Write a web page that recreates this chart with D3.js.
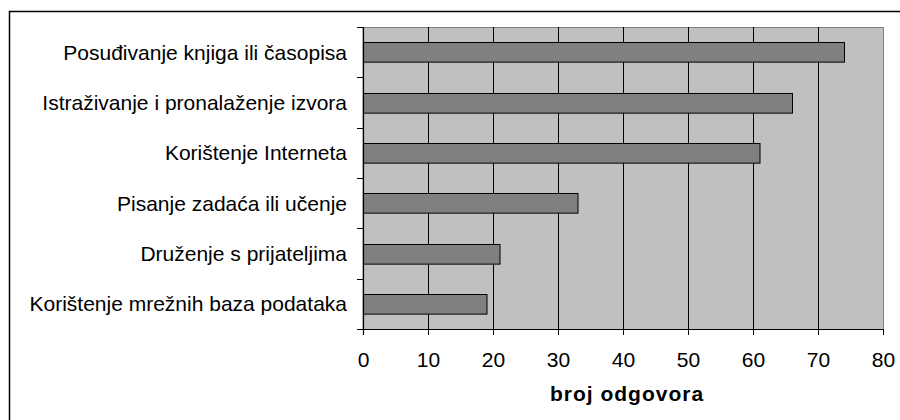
<!DOCTYPE html>
<html>
<head>
<meta charset="utf-8">
<script src="https://cdn.jsdelivr.net/npm/d3@7"></script>
<style>
body { margin:0; background:#fff; }
svg text { font-family: "Liberation Sans", Arial, sans-serif; fill:#000; }
</style>
</head>
<body>
<svg id="chart"></svg>
<script>
// answers, top to bottom
var categories = [
    "Posuđivanje knjiga ili časopisa",
    "Istraživanje i pronalaženje izvora",
    "Korištenje Interneta",
    "Pisanje zadaća ili učenje",
    "Druženje s prijateljima",
    "Korištenje mrežnih baza podataka"
];
var counts = [74, 66, 61, 33, 21, 19];
var xTicks = [0, 10, 20, 30, 40, 50, 60, 70, 80];
var xTitle = "broj odgovora";

var screen = {width:900, height:420};
var margins = {top:27, left:363, right:17, bottom:91};
var graph = {
    width: screen.width - margins.left - margins.right,
    height: screen.height - margins.top - margins.bottom
};

var svg = d3.select("#chart")
    .attr("width", screen.width)
    .attr("height", screen.height);

// outer frame (runs off the right and bottom edge)
svg.append("rect")
    .attr("x", 9.5)
    .attr("y", 11.5)
    .attr("width", 920)
    .attr("height", 440)
    .attr("fill", "none")
    .attr("stroke", "black")
    .attr("stroke-width", 1.5);

var x = d3.scaleLinear()
    .domain([0, 80])
    .range([0, graph.width]);

var y = d3.scaleBand()
    .domain(categories)
    .range([0, graph.height])
    .paddingInner(0.61)
    .paddingOuter(0.305);

var yEdges = d3.scaleBand()
    .domain(categories)
    .range([0, graph.height]);

var g = svg.append("g")
    .attr("transform", "translate(" + margins.left + "," + margins.top + ")");

// plot background
g.append("rect")
    .attr("x", 0)
    .attr("y", 0.5)
    .attr("width", graph.width + 0.5)
    .attr("height", graph.height)
    .attr("fill", "#c0c0c0")
    .attr("stroke", "#808080")
    .attr("stroke-width", 1);

// gridlines
g.append("g")
    .selectAll("line")
    .data(xTicks.slice(1, -1))
    .enter()
    .append("line")
    .attr("x1", function(d) { return Math.round(x(d)) + 0.5; })
    .attr("x2", function(d) { return Math.round(x(d)) + 0.5; })
    .attr("y1", 0)
    .attr("y2", graph.height)
    .attr("stroke", "black")
    .attr("stroke-width", 1);

// bars
g.append("g")
    .selectAll("rect")
    .data(counts)
    .enter()
    .append("rect")
    .attr("x", 0.5)
    .attr("y", function(d, i) { return Math.round(y(categories[i])) + 0.5; })
    .attr("width", function(d) { return x(d); })
    .attr("height", y.bandwidth())
    .attr("fill", "#808080")
    .attr("stroke", "black")
    .attr("stroke-width", 1);

// x axis
var xAxis = d3.axisBottom(x)
    .tickValues(xTicks)
    .tickSize(6)
    .tickPadding(15)
    .tickSizeOuter(0);

var xg = g.append("g")
    .attr("transform", "translate(0," + graph.height + ")")
    .call(xAxis);
xg.select(".domain").attr("stroke-width", 1.2);
xg.selectAll(".tick text")
    .style("font-size", "21px")
    .attr("dy", "0.8em");

// y axis: ticks sit between the categories
var yAxisG = g.append("g");
yAxisG.append("line")
    .attr("x1", 0.5).attr("x2", 0.5)
    .attr("y1", 0).attr("y2", graph.height + 6)
    .attr("stroke", "black")
    .attr("stroke-width", 1.2);
yAxisG.selectAll("line.edge")
    .data([0].concat(categories.map(function(c) { return yEdges(c) + yEdges.bandwidth(); })))
    .enter()
    .append("line")
    .classed("edge", true)
    .attr("x1", -6).attr("x2", 0)
    .attr("y1", function(d) { return Math.round(d) + 0.5; })
    .attr("y2", function(d) { return Math.round(d) + 0.5; })
    .attr("stroke", "black");

yAxisG.selectAll("text")
    .data(categories)
    .enter()
    .append("text")
    .attr("x", -16)
    .attr("y", function(d) { return yEdges(d) + yEdges.bandwidth() / 2; })
    .attr("dy", "0.35em")
    .attr("text-anchor", "end")
    .style("font-size", "21px")
    .text(function(d) { return d; });

// axis title
svg.append("text")
    .attr("x", margins.left + graph.width / 2 + 4)
    .attr("y", 401)
    .attr("text-anchor", "middle")
    .style("font-size", "21px")
    .style("font-weight", "bold")
    .style("letter-spacing", "1px")
    .text(xTitle);
</script>
</body>
</html>
